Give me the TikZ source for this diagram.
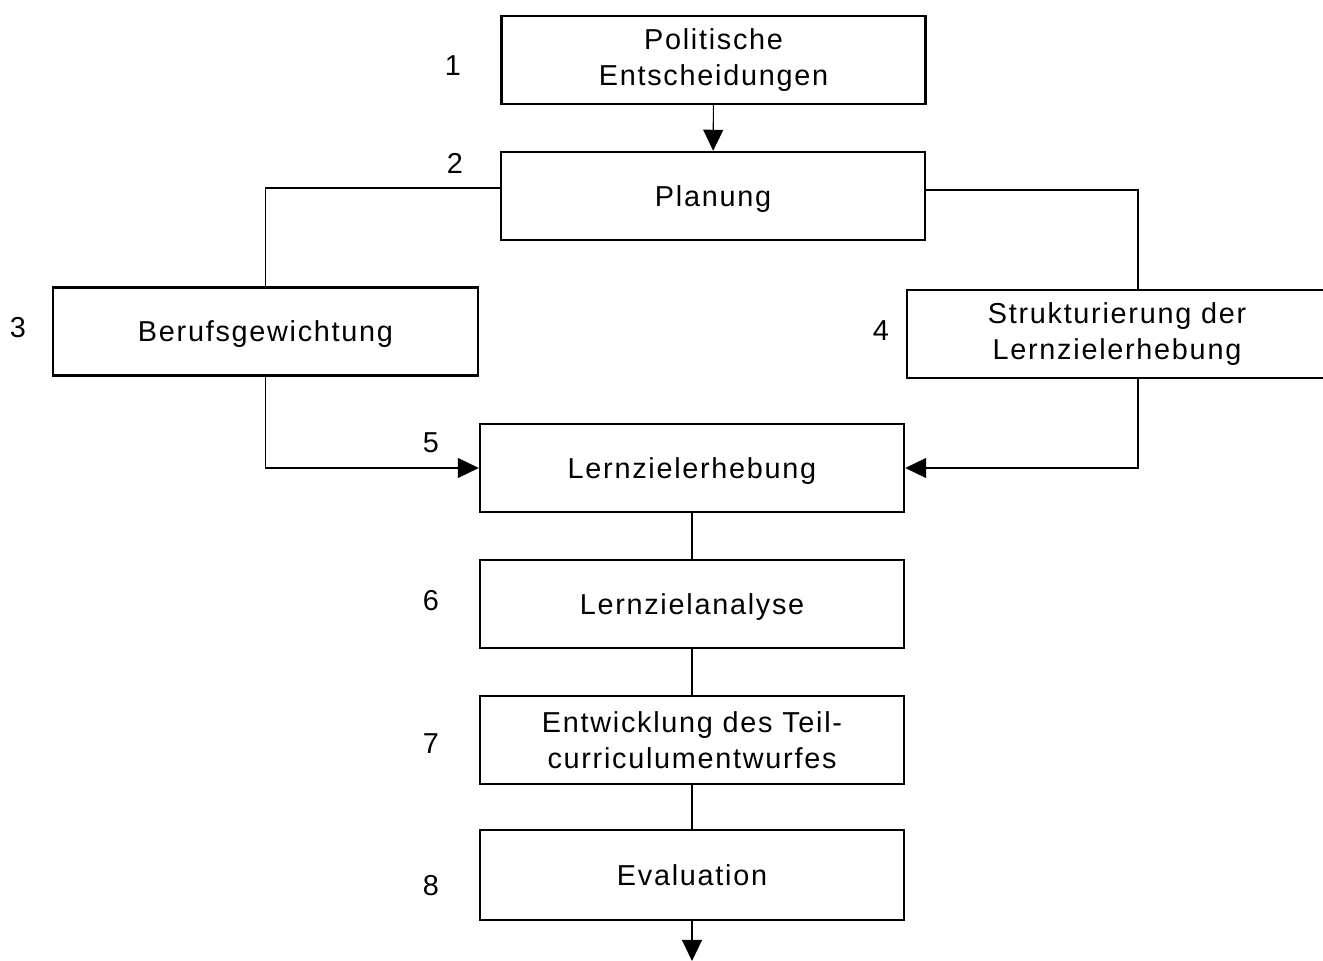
\documentclass[tikz,border=0pt]{standalone}
\usepackage{fontspec}
\setmainfont{Liberation Sans}[LetterSpace=6]
\usetikzlibrary{arrows.meta}
\tikzstyle{every node}=[font=\fontsize{16.4}{20.5}\selectfont]
\tikzstyle{stufe}=[draw,line width=1.4pt,minimum width=8.48cm,minimum height=1.76cm,align=center,inner sep=0pt]
\tikzstyle{einzeilig}=[text depth=0pt]
\tikzstyle{nr}=[inner sep=0pt]
\tikzstyle{verb}=[line width=0.6pt]
\tikzstyle{pfeil}=[verb,-{Triangle[width=0.4cm,length=0.42cm]}]

\begin{document}
\begin{tikzpicture}
    \useasboundingbox (0,0) rectangle (26.46,19.22);

    % Stufen des Ablaufs
    \node[stufe] (b1) at (14.27,18.02) {Politische\\Entscheidungen};
    \node[stufe,einzeilig] (b2) at (14.26,15.30) {Planung};
    \node[stufe,einzeilig,minimum width=8.5cm] (b3) at (5.31,12.59) {Berufsgewichtung};
    \node[stufe,minimum width=8.4cm] (b4) at (22.34,12.54) {Strukturierung der\\Lernzielerhebung};
    \node[stufe,einzeilig] (b5) at (13.84,9.86) {Lernzielerhebung};
    \node[stufe,einzeilig] (b6) at (13.84,7.14) {Lernzielanalyse};
    \node[stufe] (b7) at (13.84,4.42) {Entwicklung des Teil-\\curriculumentwurfes};
    \node[stufe,einzeilig,minimum height=1.8cm] (b8) at (13.84,1.72) {Evaluation};
    \coordinate (ende) at (13.80,0);

    % Nummern
    \node[nr] (n1) at (9.06,17.90) {1};
    \node[nr] (n2) at (9.10,15.96) {2};
    \node[nr] (n3) at (0.36,12.66) {3};
    \node[nr] (n4) at (17.62,12.60) {4};
    \node[nr] (n5) at (8.62,10.36) {5};
    \node[nr] (n6) at (8.62,7.20) {6};
    \node[nr] (n7) at (8.62,4.34) {7};
    \node[nr] (n8) at (8.62,1.50) {8};

    % Verbindungen
    \draw[pfeil] (b1) -- (b2);
    \draw[verb] ([yshift=0.16cm]b2.west) -| (b3.north);
    \draw[verb] ([yshift=0.12cm]b2.east) -| ([xshift=0.42cm]b4.north);
    \draw[pfeil] (b3.south) |- (b5.west);
    \draw[pfeil] ([xshift=0.42cm]b4.south) |- (b5.east);
    \draw[verb] (b5) -- (b6);
    \draw[verb] (b6) -- (b7);
    \draw[verb] (b7) -- (b8);
    \draw[pfeil] (b8.south) -- (b8.south |- ende);
\end{tikzpicture}
\end{document}
